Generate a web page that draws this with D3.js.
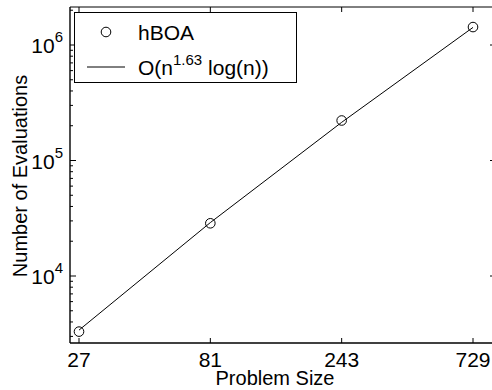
<!DOCTYPE html>
<html>
<head>
<meta charset="utf-8">
<script src="https://cdn.jsdelivr.net/npm/d3@7"></script>
<style>
  body { margin: 0; background: #fff; }
  text { font-family: "Liberation Sans", Arial, sans-serif; fill: #000; }
</style>
</head>
<body>
<div id="chart"></div>
<script>
// problem sizes and measured evaluations (hBOA)
const sizes = [27, 81, 243, 729];
const evals = [3300, 28600, 222000, 1430000];
// fitted O(n^1.63 log(n)) curve
const fitEvals = [3400, 29000, 214000, 1420000];
const xTicks = [27, 81, 243, 729];
const yTicks = [1e4, 1e5, 1e6];

const W = 492, H = 390;
const frame = {left: 70, right: 496, top: 7, bottom: 343};

const svg = d3.select("#chart").append("svg")
    .attr("width", W).attr("height", H);

const x = d3.scaleLog().domain([27, 729]).range([79, 473]);
const y = d3.scaleLog().domain([1e4, 1e6]).range([276, 45]);

// minor ticks over the full visible range
const yFull = y.copy().domain([y.invert(frame.bottom), y.invert(frame.top)]);
const yMinor = yFull.ticks().filter(v => yTicks.indexOf(v) < 0);

const g = svg.append("g");

// frame
g.append("line").attr("x1", frame.left).attr("x2", frame.right)
    .attr("y1", frame.top).attr("y2", frame.top)
    .attr("stroke", "#000").attr("stroke-width", 1);
g.append("line").attr("x1", frame.left).attr("x2", frame.right)
    .attr("y1", frame.bottom).attr("y2", frame.bottom)
    .attr("stroke", "#000").attr("stroke-width", 1.6);
g.append("line").attr("x1", frame.left).attr("x2", frame.left)
    .attr("y1", frame.top).attr("y2", frame.bottom)
    .attr("stroke", "#000").attr("stroke-width", 1.4);
g.append("line").attr("x1", frame.right).attr("x2", frame.right)
    .attr("y1", frame.top).attr("y2", frame.bottom)
    .attr("stroke", "#000").attr("stroke-width", 1);

// x ticks (bottom and top, inward)
xTicks.forEach(v => {
    g.append("line").attr("x1", x(v)).attr("x2", x(v))
        .attr("y1", frame.bottom).attr("y2", frame.bottom - 5)
        .attr("stroke", "#000");
    g.append("line").attr("x1", x(v)).attr("x2", x(v))
        .attr("y1", frame.top).attr("y2", frame.top + 5)
        .attr("stroke", "#000");
    g.append("text").attr("x", x(v)).attr("y", 367)
        .attr("text-anchor", "middle").attr("font-size", 21)
        .text(v);
});

// y ticks
yTicks.forEach(v => {
    g.append("line").attr("x1", frame.left).attr("x2", frame.left + 6)
        .attr("y1", y(v)).attr("y2", y(v)).attr("stroke", "#000");
    g.append("line").attr("x1", frame.right).attr("x2", frame.right - 6)
        .attr("y1", y(v)).attr("y2", y(v)).attr("stroke", "#000");
    const t = g.append("text").attr("x", 63).attr("y", y(v) + 8)
        .attr("text-anchor", "end").attr("font-size", 21);
    t.append("tspan").text("10");
    t.append("tspan").attr("dy", -11).attr("font-size", 15)
        .text(Math.round(Math.log10(v)));
});
yMinor.forEach(v => {
    g.append("line").attr("x1", frame.left).attr("x2", frame.left + 3)
        .attr("y1", y(v)).attr("y2", y(v)).attr("stroke", "#000");
    g.append("line").attr("x1", frame.right).attr("x2", frame.right - 3)
        .attr("y1", y(v)).attr("y2", y(v)).attr("stroke", "#000");
});

// fit line
const line = d3.line().x(d => x(d[0])).y(d => y(d[1]));
g.append("path").datum(sizes.map((s, i) => [s, fitEvals[i]]))
    .attr("d", line).attr("fill", "none")
    .attr("stroke", "#000").attr("stroke-width", 1);

// data circles
g.selectAll("circle.pt").data(sizes.map((s, i) => [s, evals[i]]))
    .enter().append("circle").attr("class", "pt")
    .attr("cx", d => x(d[0])).attr("cy", d => y(d[1]))
    .attr("r", 4.8).attr("fill", "none")
    .attr("stroke", "#000").attr("stroke-width", 1);

// axis labels
g.append("text").attr("x", 275).attr("y", 385)
    .attr("text-anchor", "middle").attr("font-size", 20)
    .text("Problem Size");
g.append("text")
    .attr("transform", "translate(27," + ((frame.top + frame.bottom) / 2 + 1) + ") rotate(-90)")
    .attr("text-anchor", "middle").attr("font-size", 20)
    .text("Number of Evaluations");

// legend
const leg = g.append("g");
leg.append("rect").attr("x", 74.5).attr("y", 12.5)
    .attr("width", 222).attr("height", 70)
    .attr("fill", "#fff").attr("stroke", "#000").attr("stroke-width", 1);
leg.append("circle").attr("cx", 106).attr("cy", 32).attr("r", 4.8)
    .attr("fill", "none").attr("stroke", "#000");
leg.append("text").attr("x", 138).attr("y", 40).attr("font-size", 21)
    .text("hBOA");
leg.append("line").attr("x1", 87).attr("x2", 125)
    .attr("y1", 67).attr("y2", 67).attr("stroke", "#000");
const lt = leg.append("text").attr("x", 138).attr("y", 75).attr("font-size", 21);
lt.append("tspan").text("O(n");
lt.append("tspan").attr("dy", -10).attr("font-size", 15).text("1.63");
lt.append("tspan").attr("dy", 10).text(" log(n))");
</script>
</body>
</html>
